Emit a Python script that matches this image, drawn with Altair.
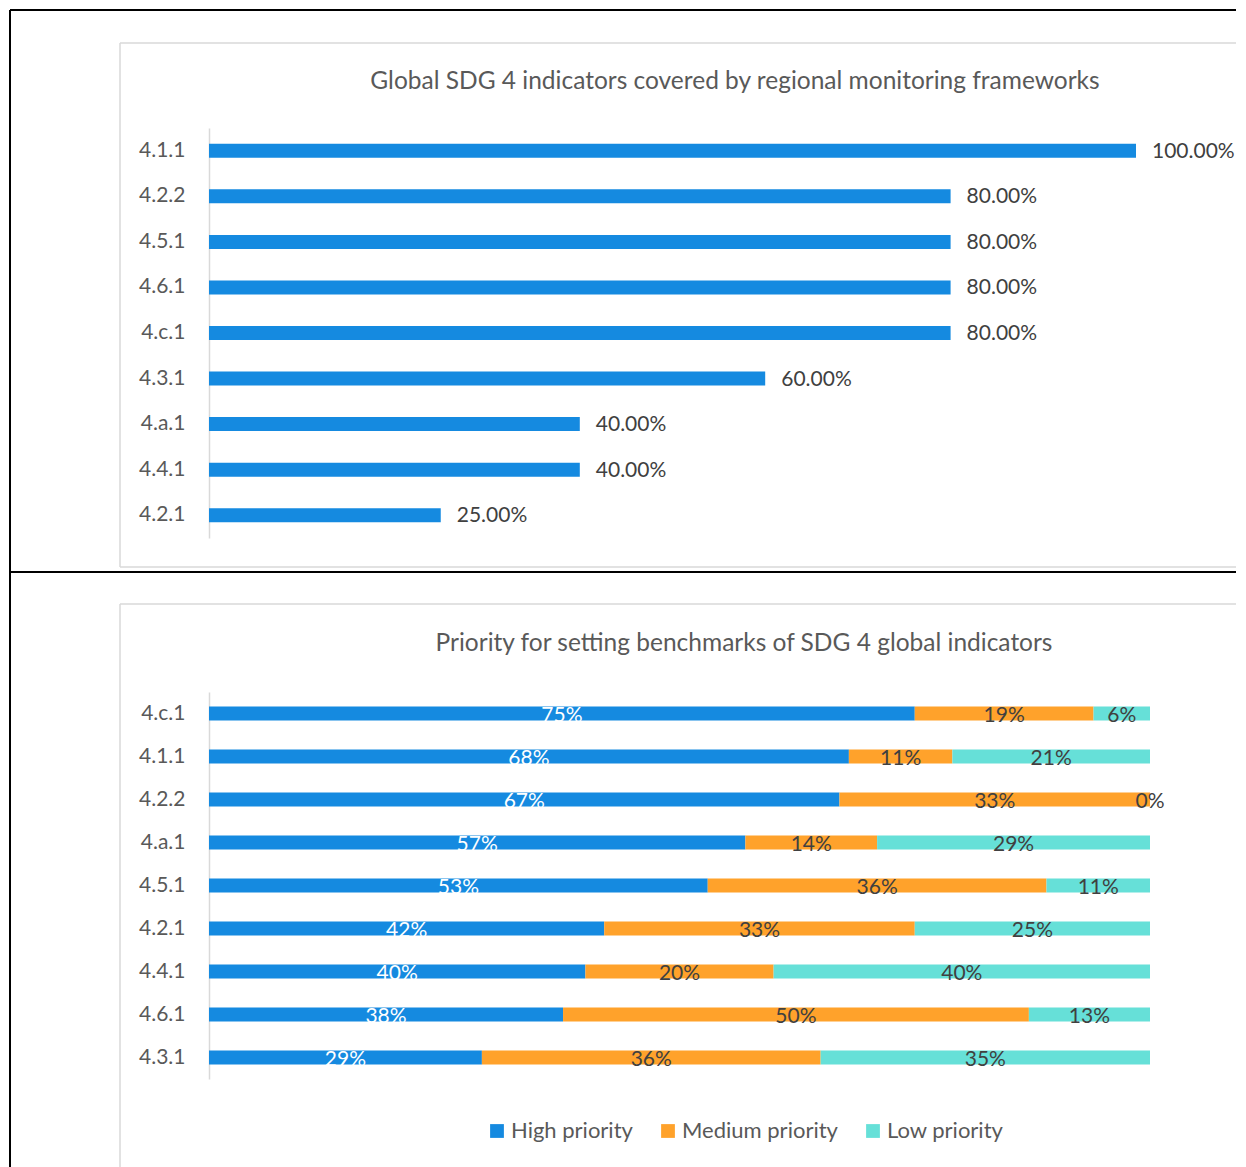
import altair as alt
import pandas as pd

# ---------------- data ----------------
top_title = "Global SDG 4 indicators covered by regional monitoring frameworks"
top_indicators = ["4.1.1", "4.2.2", "4.5.1", "4.6.1", "4.c.1", "4.3.1", "4.a.1", "4.4.1", "4.2.1"]
top_values = [1.00, 0.80, 0.80, 0.80, 0.80, 0.60, 0.40, 0.40, 0.25]

bottom_title = "Priority for setting benchmarks of SDG 4 global indicators"
bottom_indicators = ["4.c.1", "4.1.1", "4.2.2", "4.a.1", "4.5.1", "4.2.1", "4.4.1", "4.6.1", "4.3.1"]
priorities = ["High priority", "Medium priority", "Low priority"]
high = [75, 68, 67, 57, 53, 42, 40, 38, 29]
medium = [19, 11, 33, 14, 36, 33, 20, 50, 36]
low = [6, 21, 0, 29, 11, 25, 40, 13, 35]
colors = ["#158AE0", "#FFA22B", "#66E0D8"]

# ---------------- styling ----------------
FONT = "Lato"
LABEL_SIZE = 21
TITLE_SIZE = 24.5
AXIS_COLOR = "#595959"
DATA_COLOR = "#404040"
GRAY = "#d9d9d9"
BLACK = "#000000"

TOP_W, TOP_H = 927, 410
BOT_W, BOT_H = 941, 387

df_top = pd.DataFrame({"indicator": top_indicators, "value": top_values})

rows = []
for i, ind in enumerate(bottom_indicators):
    for j, (p, v) in enumerate(zip(priorities, [high[i], medium[i], low[i]])):
        rows.append({"indicator": ind, "priority": p, "value": v, "order": j})
df_bot = pd.DataFrame(rows)

one = pd.DataFrame({"k": [0]})


def hline(x1, x2, y, color, w):
    return alt.Chart(one).mark_rule(color=color, strokeWidth=w).encode(
        x=alt.value(x1), x2=alt.value(x2), y=alt.value(y))


def vline(x, y1, y2, color, w):
    return alt.Chart(one).mark_rule(color=color, strokeWidth=w).encode(
        x=alt.value(x), y=alt.value(y1), y2=alt.value(y2))


def title_text(t, x, y):
    return alt.Chart(one).mark_text(
        text=t, font=FONT, fontSize=TITLE_SIZE, color=AXIS_COLOR,
        align="center", baseline="middle").encode(x=alt.value(x), y=alt.value(y))


def yaxis():
    return alt.Axis(title=None, ticks=False, grid=False, domainColor=GRAY, domainWidth=1.5,
                    labelColor=AXIS_COLOR, labelFont=FONT, labelFontSize=LABEL_SIZE,
                    labelPadding=24)


# ---------------- top chart ----------------
ytop = alt.Y("indicator:N", sort=top_indicators, axis=yaxis(),
             scale=alt.Scale(paddingInner=0, paddingOuter=0))
xtop = alt.X("value:Q", scale=alt.Scale(domain=[0, 1]), axis=None)

top_bars = alt.Chart(df_top).mark_bar(size=14, color=colors[0]).encode(x=xtop, y=ytop)
top_labels = alt.Chart(df_top).mark_text(
    align="left", baseline="middle", dx=16, dy=1, font=FONT, fontSize=LABEL_SIZE,
    color=DATA_COLOR).encode(x=xtop, y=ytop, text=alt.Text("value:Q", format=".2%"))

top = alt.layer(
    hline(-199, 1027, -118, BLACK, 2),
    vline(-199, -118, 444, BLACK, 2),
    hline(-199, 1027, 444, BLACK, 2),
    hline(-89, 1027, -85, GRAY, 1.5),
    vline(-89, -85, 439, GRAY, 1.5),
    hline(-89, 1027, 439, GRAY, 1.5),
    title_text(top_title, 526, -46),
    top_bars,
    top_labels,
).properties(width=TOP_W, height=TOP_H)

# ---------------- bottom chart ----------------
base = alt.Chart(df_bot).transform_stack(
    stack="value", as_=["x0", "x1"], groupby=["indicator"],
    sort=[alt.SortField("order", order="ascending")], offset="normalize"
).transform_calculate(mid="(datum.x0 + datum.x1) / 2", label="datum.value + '%'")

ybot = alt.Y("indicator:N", sort=bottom_indicators, axis=yaxis(),
             scale=alt.Scale(paddingInner=0, paddingOuter=0))

bot_bars = base.mark_bar(size=14).encode(
    x=alt.X("x0:Q", scale=alt.Scale(domain=[0, 1]), axis=None),
    x2="x1:Q",
    y=ybot,
    color=alt.Color("priority:N", sort=priorities,
                    scale=alt.Scale(domain=priorities, range=colors),
                    legend=alt.Legend(title=None, orient="none", direction="horizontal",
                                      legendX=277, legendY=992, symbolType="square",
                                      symbolSize=190, symbolStrokeWidth=0,
                                      labelFont=FONT, labelFontSize=22,
                                      labelColor=AXIS_COLOR, labelOffset=3,
                                      columnPadding=24, padding=0)),
)
bot_labels = base.mark_text(
    align="center", baseline="middle", dy=2, font=FONT, fontSize=LABEL_SIZE).encode(
    x=alt.X("mid:Q", scale=alt.Scale(domain=[0, 1]), axis=None),
    y=ybot,
    text="label:N",
    color=alt.condition(alt.datum.priority == "High priority",
                        alt.value("white"), alt.value(DATA_COLOR)),
)

bottom = alt.layer(
    vline(-199, -120, 478, BLACK, 2),
    hline(-89, 1027, -88, GRAY, 1.5),
    vline(-89, -88, 478, GRAY, 1.5),
    title_text(bottom_title, 535, -48),
    bot_bars,
    bot_labels,
).properties(width=BOT_W, height=BOT_H)

chart = alt.vconcat(top, bottom, spacing=154, bounds="flush").properties(
    padding={"left": 1, "top": 1, "right": 0, "bottom": 0}
).configure_view(stroke=None)

chart.save("out.html", embed_options={"renderer": "svg", "actions": False})
